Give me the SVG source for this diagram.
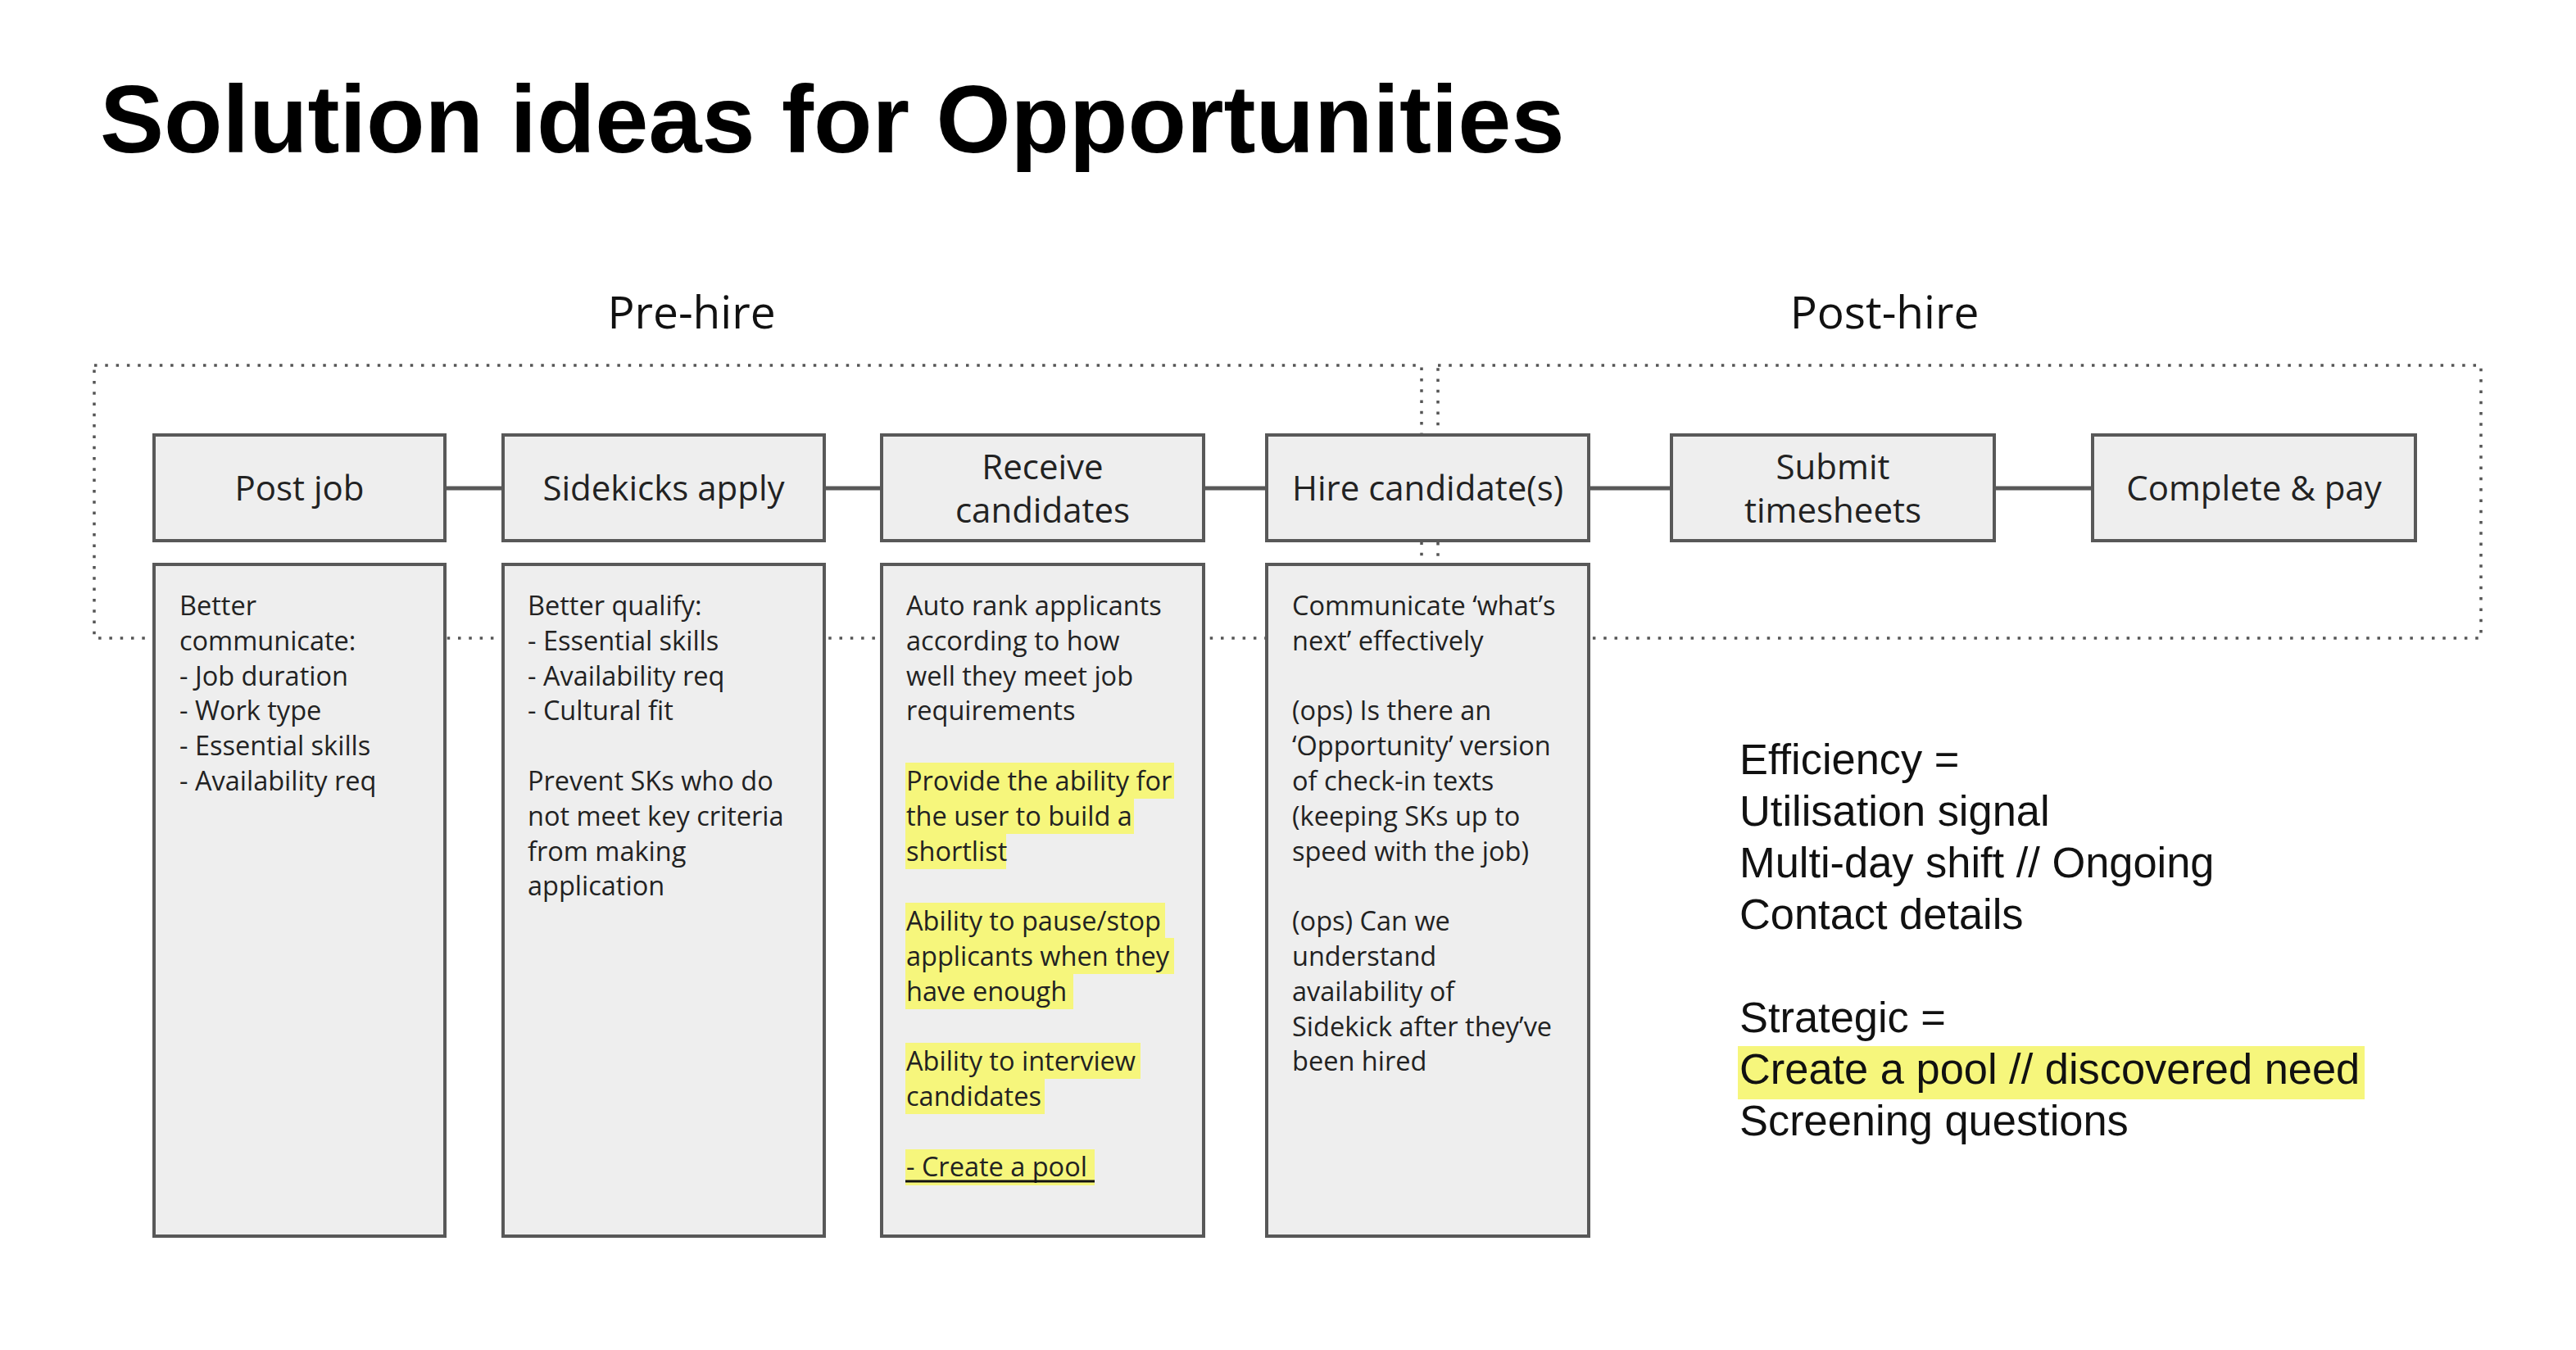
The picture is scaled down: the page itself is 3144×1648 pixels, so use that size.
<svg xmlns="http://www.w3.org/2000/svg" width="3144" height="1648" viewBox="0 0 3144 1648">
<style>
.title{font-family:"Liberation Sans",Arial,sans-serif;font-weight:bold;font-size:117px;fill:#000}
.phase{font-family:"Open Sans",sans-serif;font-size:55px;fill:#111;text-anchor:middle}
.box{fill:#eeeeee;stroke:#585858;stroke-width:4}
.lbl{font-family:"Open Sans",sans-serif;font-size:42px;fill:#222;text-anchor:middle}
.body{font-family:"Open Sans",sans-serif;font-size:32.5px;fill:#222}
.hl{fill:#f6f67c}
.dot{fill:none;stroke:#555;stroke-width:3.5;stroke-dasharray:3.5 9.8}
.conn{stroke:#585858;stroke-width:5}
.note{font-family:"Liberation Sans",Arial,sans-serif;font-size:52.4px;fill:#111}
</style>
<rect x="0" y="0" width="3144" height="1648" fill="#ffffff"/>
<text class="title" x="122" y="186">Solution ideas for Opportunities</text>
<text class="phase" x="844" y="401">Pre-hire</text>
<text class="phase" x="2300" y="401">Post-hire</text>

<g id="phases">
<rect class="dot" x="115" y="446" width="1620" height="333"/>
<rect class="dot" x="1755" y="446" width="1273" height="333"/>
</g>

<g id="connectors">
<line class="conn" x1="545" y1="596" x2="612" y2="596"/>
<line class="conn" x1="1008" y1="596" x2="1074" y2="596"/>
<line class="conn" x1="1471" y1="596" x2="1544" y2="596"/>
<line class="conn" x1="1941" y1="596" x2="2038" y2="596"/>
<line class="conn" x1="2436" y1="596" x2="2552" y2="596"/>
</g>

<g id="post-job">
<rect class="box" x="188" y="531" width="355" height="129"/>
<text class="lbl" x="365.5" y="611">Post job</text>
</g>
<g id="sidekicks-apply">
<rect class="box" x="614" y="531" width="392" height="129"/>
<text class="lbl" x="810" y="611">Sidekicks apply</text>
</g>
<g id="receive-candidates">
<rect class="box" x="1076" y="531" width="393" height="129"/>
<text class="lbl" x="1272.5" y="585">Receive</text>
<text class="lbl" x="1272.5" y="638">candidates</text>
</g>
<g id="hire-candidates">
<rect class="box" x="1546" y="531" width="393" height="129"/>
<text class="lbl" x="1742.5" y="611">Hire candidate(s)</text>
</g>
<g id="submit-timesheets">
<rect class="box" x="2040" y="531" width="394" height="129"/>
<text class="lbl" x="2237" y="585">Submit</text>
<text class="lbl" x="2237" y="638">timesheets</text>
</g>
<g id="complete-pay">
<rect class="box" x="2554" y="531" width="394" height="129"/>
<text class="lbl" x="2751" y="611">Complete &amp; pay</text>
</g>

<g id="post-job-ideas">
<rect class="box" x="188" y="689" width="355" height="820"/>
<text class="body"><tspan x="219" y="751">Better</tspan><tspan x="219" dy="42.8">communicate:</tspan><tspan x="219" dy="42.8">- Job duration</tspan><tspan x="219" dy="42.8">- Work type</tspan><tspan x="219" dy="42.8">- Essential skills</tspan><tspan x="219" dy="42.8">- Availability req</tspan></text>
</g>
<g id="sidekicks-apply-ideas">
<rect class="box" x="614" y="689" width="392" height="820"/>
<text class="body"><tspan x="644" y="751">Better qualify:</tspan><tspan x="644" dy="42.8">- Essential skills</tspan><tspan x="644" dy="42.8">- Availability req</tspan><tspan x="644" dy="42.8">- Cultural fit</tspan><tspan x="644" dy="85.6">Prevent SKs who do</tspan><tspan x="644" dy="42.8">not meet key criteria</tspan><tspan x="644" dy="42.8">from making</tspan><tspan x="644" dy="42.8">application</tspan></text>
</g>
<g id="receive-candidates-ideas">
<rect class="box" x="1076" y="689" width="393" height="820"/>
<rect class="hl" x="1105" y="931" width="328" height="44"/>
<rect class="hl" x="1105" y="974" width="279" height="44"/>
<rect class="hl" x="1105" y="1017" width="123" height="44"/>
<rect class="hl" x="1105" y="1102" width="317" height="44"/>
<rect class="hl" x="1105" y="1145" width="328" height="44"/>
<rect class="hl" x="1105" y="1188" width="205" height="44"/>
<rect class="hl" x="1105" y="1273" width="287" height="44"/>
<rect class="hl" x="1105" y="1316" width="170" height="44"/>
<rect class="hl" x="1105" y="1403" width="231" height="44"/>
<text class="body"><tspan x="1106" y="751">Auto rank applicants</tspan><tspan x="1106" dy="42.8">according to how</tspan><tspan x="1106" dy="42.8">well they meet job</tspan><tspan x="1106" dy="42.8">requirements</tspan><tspan x="1106" dy="85.6">Provide the ability for</tspan><tspan x="1106" dy="42.8">the user to build a</tspan><tspan x="1106" dy="42.8">shortlist</tspan><tspan x="1106" dy="85.6">Ability to pause/stop</tspan><tspan x="1106" dy="42.8">applicants when they</tspan><tspan x="1106" dy="42.8">have enough</tspan><tspan x="1106" dy="85.6">Ability to interview</tspan><tspan x="1106" dy="42.8">candidates</tspan><tspan x="1106" dy="85.6">- Create a pool</tspan></text>
<line x1="1105" y1="1442" x2="1336" y2="1442" stroke="#111" stroke-width="3"/>
</g>
<g id="hire-candidates-ideas">
<rect class="box" x="1546" y="689" width="393" height="820"/>
<text class="body"><tspan x="1577" y="751">Communicate ‘what’s</tspan><tspan x="1577" dy="42.8">next’ effectively</tspan><tspan x="1577" dy="85.6">(ops) Is there an</tspan><tspan x="1577" dy="42.8">‘Opportunity’ version</tspan><tspan x="1577" dy="42.8">of check-in texts</tspan><tspan x="1577" dy="42.8">(keeping SKs up to</tspan><tspan x="1577" dy="42.8">speed with the job)</tspan><tspan x="1577" dy="85.6">(ops) Can we</tspan><tspan x="1577" dy="42.8">understand</tspan><tspan x="1577" dy="42.8">availability of</tspan><tspan x="1577" dy="42.8">Sidekick after they’ve</tspan><tspan x="1577" dy="42.8">been hired</tspan></text>
</g>

<g id="notes">
<rect class="hl" x="2121" y="1277" width="765" height="65"/>
<text class="note"><tspan x="2123" y="945">Efficiency =</tspan><tspan x="2123" dy="63">Utilisation signal</tspan><tspan x="2123" dy="63">Multi-day shift // Ongoing</tspan><tspan x="2123" dy="63">Contact details</tspan><tspan x="2123" dy="126">Strategic =</tspan><tspan x="2123" dy="63">Create a pool // discovered need</tspan><tspan x="2123" dy="63">Screening questions</tspan></text>
</g>
</svg>
